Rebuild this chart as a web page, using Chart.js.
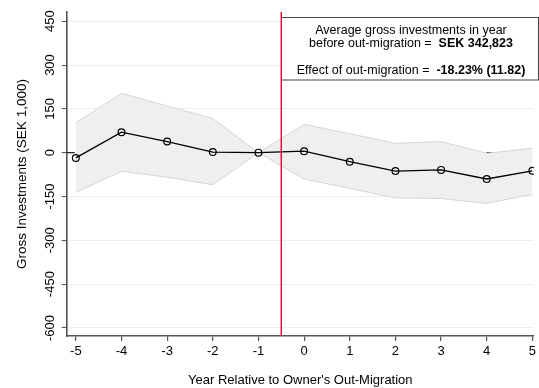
<!DOCTYPE html>
<html>
<head>
<meta charset="utf-8">
<script src="https://cdn.jsdelivr.net/npm/chart.js@4.4.1/dist/chart.umd.min.js"></script>
<style>
  html, body { margin: 0; padding: 0; background: #fff; }
  #wrap { width: 539px; height: 388px; }
</style>
</head>
<body>
<div id="wrap"><canvas id="chart" width="539" height="388"></canvas></div>
<script>
// Data
const years = [-5, -4, -3, -2, -1, 0, 1, 2, 3, 4, 5];
const estimates = [-18, 70, 38, 2, 0, 5, -31, -63, -59, -90, -62];
const ciUpper = [102, 203, 160, 117, 0, 97, 65, 32, 38, -2, 15];
const ciLower = [-136, -64, -84, -110, 0, -90, -122, -155, -157, -174, -142];

const xTicks = [-5, -4, -3, -2, -1, 0, 1, 2, 3, 4, 5];
const yTicks = [-600, -450, -300, -150, 0, 150, 300, 450];
const eventLine = -0.5;
const zeroLine = 0;

const boxLines = [
  [{ text: 'Average gross investments in year', bold: false }],
  [{ text: 'before out-migration =  ', bold: false }, { text: 'SEK 342,823', bold: true }],
  [{ text: 'Effect of out-migration =  ', bold: false }, { text: '-18.23% (11.82)', bold: true }]
];

const FONT = '"Liberation Sans", Arial, sans-serif';
const toPoints = vals => years.map((x, i) => ({ x: x, y: vals[i] }));

// Reference lines + annotation box
const extras = {
  id: 'extras',
  beforeDatasetsDraw(chart) {
    const { ctx, chartArea: a, scales: { x, y } } = chart;
    ctx.save();
    const y0 = y.getPixelForValue(zeroLine);
    ctx.strokeStyle = '#222';
    ctx.lineWidth = 1.3;
    ctx.setLineDash([8, 4]);
    ctx.beginPath();
    ctx.moveTo(a.left, y0);
    ctx.lineTo(a.right, y0);
    ctx.stroke();
    ctx.restore();
  },
  afterDatasetsDraw(chart) {
    const { ctx, chartArea: a, scales: { x } } = chart;
    ctx.save();
    const xe = x.getPixelForValue(eventLine);

    // text box
    const bx = Math.round(xe) + 0.5, by = 17.5, bw = 538.5 - bx, bh = 62.5;
    ctx.fillStyle = '#fff';
    ctx.fillRect(bx, by, bw, bh);
    ctx.strokeStyle = '#444';
    ctx.lineWidth = 1;
    ctx.strokeRect(bx, by, bw, bh);

    ctx.strokeStyle = '#e0002a';
    ctx.lineWidth = 1.4;
    ctx.beginPath();
    ctx.moveTo(xe, a.top);
    ctx.lineTo(xe, a.bottom);
    ctx.stroke();

    const cx = 411;
    const lineY = [30.7, 43.3, 71];
    ctx.fillStyle = '#000';
    ctx.textBaseline = 'middle';
    ctx.textAlign = 'left';
    boxLines.forEach((parts, i) => {
      let total = 0;
      parts.forEach(p => {
        ctx.font = (p.bold ? 'bold ' : '') + '12.5px ' + FONT;
        p.w = ctx.measureText(p.text).width;
        total += p.w;
      });
      let px = cx - total / 2;
      parts.forEach(p => {
        ctx.font = (p.bold ? 'bold ' : '') + '12.5px ' + FONT;
        ctx.fillText(p.text, px, lineY[i]);
        px += p.w;
      });
    });
    ctx.restore();
  }
};

const ctx = document.getElementById('chart').getContext('2d');
new Chart(ctx, {
  type: 'line',
  data: {
    datasets: [
      {
        label: 'upper',
        data: toPoints(ciUpper),
        borderColor: '#d6d6d6',
        borderWidth: 1,
        backgroundColor: '#efefef',
        pointRadius: 0,
        fill: '+1',
        order: 3
      },
      {
        label: 'lower',
        data: toPoints(ciLower),
        borderColor: '#d6d6d6',
        borderWidth: 1,
        pointRadius: 0,
        fill: false,
        order: 2
      },
      {
        label: 'estimate',
        data: toPoints(estimates),
        borderColor: '#000',
        borderWidth: 1.3,
        pointRadius: 3.4,
        pointBorderWidth: 1.2,
        pointBorderColor: '#000',
        pointBackgroundColor: 'rgba(0,0,0,0)',
        fill: false,
        order: 1
      }
    ]
  },
  options: {
    responsive: false,
    animation: false,
    layout: { autoPadding: false, padding: { top: 12, right: 0, left: 0, bottom: 0 } },
    plugins: {
      legend: { display: false },
      tooltip: { enabled: false }
    },
    scales: {
      x: {
        type: 'linear',
        min: -5.2,
        max: 5.033,
        afterBuildTicks: s => { s.ticks = xTicks.map(v => ({ value: v })); },
        afterFit: s => { s.height = 52; },
        border: { color: '#555', width: 1.6 },
        grid: { drawOnChartArea: false, drawTicks: true, tickLength: 5, color: '#555', lineWidth: 1.2 },
        ticks: {
          color: '#000',
          font: { family: FONT, size: 13 },
          padding: 3,
          maxRotation: 0,
          callback: v => String(v)
        },
        title: {
          display: true,
          text: "Year Relative to Owner's Out-Migration",
          color: '#000',
          font: { family: FONT, size: 13 },
          padding: { top: 10, bottom: 0 }
        }
      },
      y: {
        min: -627.5,
        max: 481.5,
        afterBuildTicks: s => { s.ticks = yTicks.map(v => ({ value: v })); },
        afterFit: s => { s.width = 66.7; },
        border: { color: '#555', width: 1.6 },
        grid: { color: '#e6eff1', lineWidth: 1, tickColor: '#555', tickLength: 5, drawTicks: true },
        ticks: {
          color: '#000',
          font: { family: FONT, size: 13 },
          minRotation: 90,
          maxRotation: 90,
          crossAlign: 'center',
          padding: -2,
          callback: v => String(v)
        },
        title: {
          display: true,
          text: 'Gross Investments (SEK 1,000)',
          color: '#000',
          font: { family: FONT, size: 13.5 },
          padding: { top: 14, bottom: 2 }
        }
      }
    }
  },
  plugins: [extras]
});
</script>
</body>
</html>
